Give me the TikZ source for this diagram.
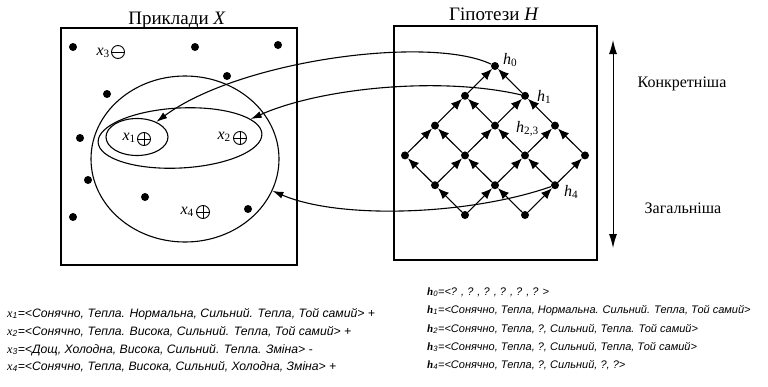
\documentclass[tikz,border=0pt]{standalone}
\usepackage{fontspec}
\setmainfont{Liberation Serif}
\setsansfont{Liberation Sans}
\usetikzlibrary{arrows.meta,shapes.geometric}
\begin{document}
\begin{tikzpicture}[x=1pt,y=-1pt,
  dot/.style={circle,fill,inner sep=0pt,minimum size=8pt},
  frame/.style={draw,line width=1.2pt},
  oval/.style={ellipse,draw,line width=1.1pt,inner sep=0pt},
  sign/.style={circle,draw,inner sep=0pt,minimum size=13pt,line width=0.9pt},
  lat/.style={-{Latex[length=11pt,width=9pt]},line width=1.1pt},
  link/.style={-{Latex[length=11pt,width=7pt]},line width=1.1pt},
  lbl/.style={font=\fontsize{16}{16}\selectfont,inner sep=0pt},
  ttl/.style={font=\fontsize{19}{19}\selectfont,anchor=base,inner sep=0pt},
  side/.style={font=\fontsize{16}{16}\selectfont,anchor=base,inner sep=0pt},
  descl/.style={font=\fontsize{12.2}{12}\sffamily\itshape\selectfont,anchor=base west,inner sep=0pt},
  descr/.style={font=\fontsize{11}{11}\sffamily\itshape\selectfont,anchor=base west,inner sep=0pt}
]
\useasboundingbox (0,0) rectangle (768,386);

% titles
\node[ttl] (tx) at (177,24) {Приклади \textit{X}};
\node[ttl] (th) at (494,20) {Гіпотези \textit{H}};

% frames
\draw[frame] (61,28) rectangle (297,265);
\draw[frame] (394,26) rectangle (597,260);

% ellipses
\node[oval,minimum width=188pt,minimum height=166pt] (big) at (185,159) {};
\node[oval,minimum width=164pt,minimum height=60pt,rotate=3] (med) at (180,138) {};
\node[oval,minimum width=62pt,minimum height=37pt] (sml) at (137,137) {};

% dots in the example space
\foreach \p [count=\i] in {(73,47),(195,47),(278,45),(227,76),(107,94),(80,138),(88,180),(145,197),(248,209),(73,217)}
  \node[dot] (d\i) at \p {};

% examples
\node[sign] (p1) at (144,139) {};
\draw[line width=0.9pt] (p1.north) -- (p1.south) (p1.west) -- (p1.east);
\node[lbl,anchor=east] (lx1) at (136,138) {\textit{x}\textsubscript{1}};
\node[sign] (p2) at (240,138) {};
\draw[line width=0.9pt] (p2.north) -- (p2.south) (p2.west) -- (p2.east);
\node[lbl,anchor=east] (lx2) at (231,137) {\textit{x}\textsubscript{2}};
\node[sign] (p3) at (118,52) {};
\draw[line width=0.9pt] (p3.west) -- (p3.east);
\node[lbl,anchor=east] (lx3) at (110,53) {\textit{x}\textsubscript{3}};
\node[sign] (p4) at (203,212) {};
\draw[line width=0.9pt] (p4.north) -- (p4.south) (p4.west) -- (p4.east);
\node[lbl,anchor=east] (lx4) at (194,212) {\textit{x}\textsubscript{4}};

% hypothesis lattice
\foreach \u in {0,...,3}{
  \foreach \v in {0,...,3}{
    \pgfmathtruncatemacro\s{\u+\v}
    \ifnum\s<6
      \node[dot] (n-\u-\v) at ({495+30*(\u-\v)},{66+29.8*(\u+\v)}) {};
    \fi
  }
}
\foreach \u in {0,...,3}{
  \foreach \v in {0,...,3}{
    \pgfmathtruncatemacro\s{\u+\v}
    \pgfmathtruncatemacro\pu{\u-1}
    \pgfmathtruncatemacro\pv{\v-1}
    \ifnum\s<6
      \ifnum\u>0 \draw[lat] (n-\u-\v) -- (n-\pu-\v); \fi
      \ifnum\v>0 \draw[lat] (n-\u-\v) -- (n-\u-\pv); \fi
    \fi
  }
}
\node[lbl,anchor=west] (lh0) at (503,60) {\textit{h}\textsubscript{0}};
\node[lbl,anchor=west] (lh1) at (537,97) {\textit{h}\textsubscript{1}};
\node[lbl,anchor=west] (lh23) at (516,129) {\textit{h}\textsubscript{2,3}};
\node[lbl,anchor=west] (lh4) at (564,192) {\textit{h}\textsubscript{4}};

% links hypothesis -> examples
\draw[link] (n-0-0) .. controls (430,35) and (240,60) .. (sml.38);
\draw[link] (n-1-0) .. controls (440,76) and (320,88) .. (med.12);
\draw[link] (n-3-1) .. controls (470,215) and (340,220) .. (big.-20);

% specificity arrow
\coordinate (vtop) at (613,40);
\coordinate (vbot) at (613,248);
\draw[{Latex[length=14pt,width=8pt]}-{Latex[length=14pt,width=8pt]},line width=1pt] (vtop) -- (vbot);
\node[side] (konk) at (682,87) {Конкретніша};
\node[side] (zag) at (683,213) {Загальніша};

% descriptions
\node[descl] (tx1) at (7,317) {\textrm{\textit{x}}\textsubscript{1}=<Сонячно, Тепла. Нормальна, Сильний. Тепла, Той самий> +};
\node[descl] (tx2) at (7,335) {\textrm{\textit{x}}\textsubscript{2}=<Сонячно, Тепла. Висока, Сильний. Тепла, Той самий> +};
\node[descl] (tx3) at (7,353) {\textrm{\textit{x}}\textsubscript{3}=<Дощ, Холодна, Висока, Сильний. Тепла. Зміна> -};
\node[descl] (tx4) at (7,370) {\textrm{\textit{x}}\textsubscript{4}=<Сонячно, Тепла, Висока, Сильний, Холодна, Зміна> +};

\node[descr] (th0) at (427,295) {\textrm{\textbf{\textit{h}}}\textsubscript{0}=<? , ? , ? , ? , ? , ? >};
\node[descr] (th1) at (427,313) {\textrm{\textbf{\textit{h}}}\textsubscript{1}=<Сонячно, Тепла, Нормальна. Сильний. Тепла, Той самий>};
\node[descr] (th2) at (427,332) {\textrm{\textbf{\textit{h}}}\textsubscript{2}=<Сонячно, Тепла, ?, Сильний, Тепла. Той самий>};
\node[descr] (th3) at (427,350) {\textrm{\textbf{\textit{h}}}\textsubscript{3}=<Сонячно, Тепла, ?, Сильний, Тепла, Той самий>};
\node[descr] (th4) at (427,368) {\textrm{\textbf{\textit{h}}}\textsubscript{4}=<Сонячно, Тепла, ?, Сильний, ?, ?>};
\end{tikzpicture}
\end{document}
